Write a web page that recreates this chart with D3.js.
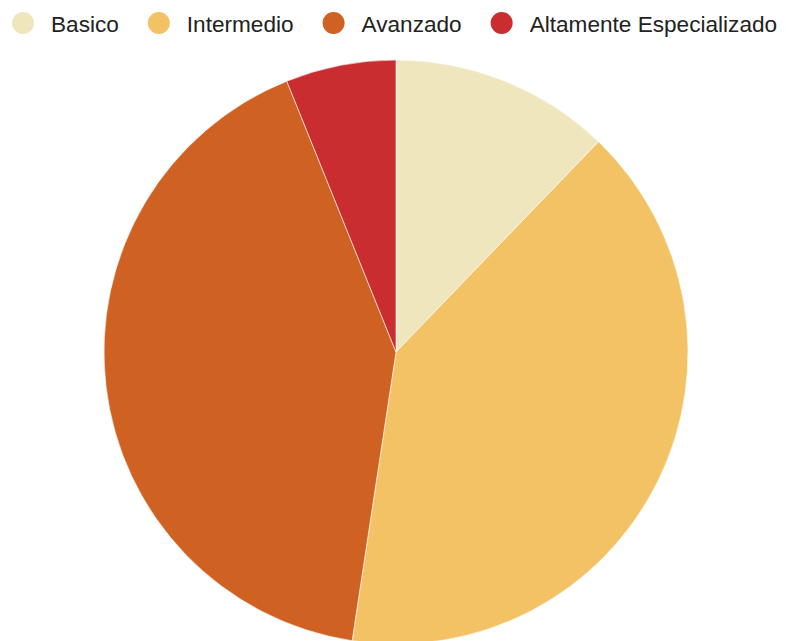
<!DOCTYPE html>
<html>
<head>
  <meta charset="utf-8">
  <title>Niveles</title>
  <script src="https://cdn.jsdelivr.net/npm/d3@7/dist/d3.min.js"></script>
  <style>
    body { margin: 0; background: #fff; }
  </style>
</head>
<body>
<svg width="786" height="641"></svg>
<script>
  const categories = ['Basico', 'Intermedio', 'Avanzado', 'Altamente Especializado'];
  const values = [12.2, 40.2, 41.5, 6.1];
  const colors = ['#f0e6bd', '#f2c264', '#cf6122', '#c92d2f'];

  const svg = d3.select('svg');
  const color = d3.scaleOrdinal().domain(categories).range(colors);

  const data = categories.map((c, i) => ({ name: c, value: values[i] }));
  const pie = d3.pie().sort(null).value(d => d.value);
  const arc = d3.arc().innerRadius(0).outerRadius(292);

  const g = svg.append('g').attr('transform', 'translate(396,352)');
  g.selectAll('path').data(pie(data))
    .enter().append('path')
      .attr('d', arc)
      .attr('fill', d => color(d.data.name))
      .attr('stroke', '#fff')
      .attr('stroke-width', 0.6);

  // legend
  const legend = svg.append('g').attr('transform', 'translate(0,23)');
  let x = 23;
  categories.forEach(c => {
    const item = legend.append('g').attr('transform', `translate(${x},0)`);
    item.append('circle').attr('r', 11).attr('fill', color(c));
    const t = item.append('text')
      .attr('x', 28).attr('y', 8.5)
      .attr('font-family', 'Arial, Helvetica, "Liberation Sans", sans-serif')
      .attr('font-size', 22.6)
      .attr('fill', '#222')
      .text(c);
    x += 28 + t.node().getComputedTextLength() + 40;
  });
</script>
</body>
</html>
